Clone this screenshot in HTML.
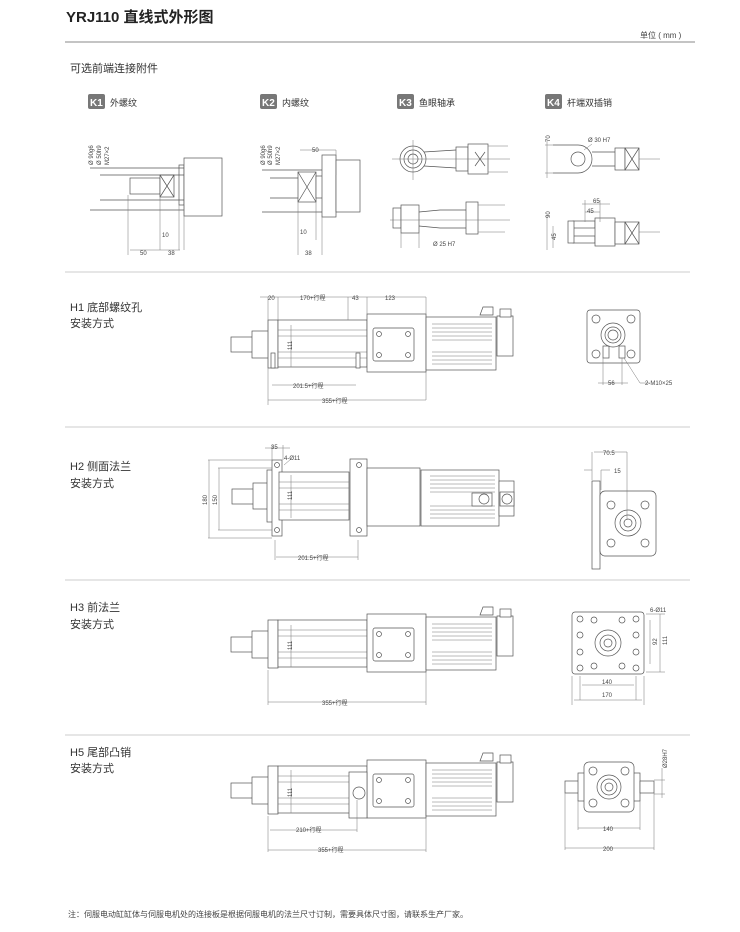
<!DOCTYPE html>
<html><head><meta charset="utf-8"><style>
body{margin:0;background:#fff;width:740px;height:932px;overflow:hidden}
svg{display:block}
text{font-family:"Liberation Sans","Noto Sans CJK SC",sans-serif;fill:#333}
.t{font-size:11px}
.s{font-size:6px;fill:#444}
.l{fill:none;stroke:#555;stroke-width:.7}
.w{fill:#fff;stroke:#555;stroke-width:.7}
.d{fill:none;stroke:#777;stroke-width:.5}
</style></head><body>
<svg width="740" height="932" viewBox="0 0 740 932">
<defs>
<g id="fins" class="d"><path d="M432 324H492M432 328H492M432 332H492M432 336H492M432 340H492M432 352H492M432 356H492M432 360H492M432 364H492"/></g>
<g id="act">
<rect x="231" y="337" width="22" height="15" class="w"/>
<rect x="252" y="331" width="17" height="27" class="w"/>
<rect x="268" y="320" width="10" height="48" class="w"/>
<rect x="278" y="320" width="89" height="47" class="w"/>
<path class="d" d="M278 330H367M278 358H367M278 336H367M278 352H367"/>
<rect x="367" y="314" width="59" height="58" class="w"/>
<rect x="426" y="317" width="70" height="53" class="w"/>
<use href="#fins"/>
<path class="w" d="M480 315 l3 -8 h10 v8z"/>
<rect x="497" y="316" width="16" height="40" class="w"/>
<rect x="500" y="309" width="11" height="8" class="w"/>
</g>
<g id="plate">
<rect x="373" y="328" width="41" height="33" rx="2" class="w"/>
<circle cx="379" cy="334" r="2.5" class="l"/><circle cx="408" cy="334" r="2.5" class="l"/>
<circle cx="379" cy="355" r="2.5" class="l"/><circle cx="408" cy="355" r="2.5" class="l"/>
</g>
</defs>

<text x="66" y="22" style="font-size:15px;font-weight:bold;fill:#222">YRJ110 直线式外形图</text>
<text x="640" y="38" class="s" style="font-size:8px">单位 ( mm )</text>
<line x1="65" y1="42" x2="695" y2="42" stroke="#888" stroke-width="1"/>
<text x="70" y="72" style="font-size:11px">可选前端连接附件</text>

<g>
<rect x="88" y="94" width="17" height="15" rx="2" fill="#777"/><text x="90" y="106" style="font-size:10px;fill:#fff;font-weight:bold">K1</text><text x="110" y="106" style="font-size:9px">外螺纹</text>
<rect x="260" y="94" width="17" height="15" rx="2" fill="#777"/><text x="262" y="106" style="font-size:10px;fill:#fff;font-weight:bold">K2</text><text x="282" y="106" style="font-size:9px">内螺纹</text>
<rect x="397" y="94" width="17" height="15" rx="2" fill="#777"/><text x="399" y="106" style="font-size:10px;fill:#fff;font-weight:bold">K3</text><text x="419" y="106" style="font-size:9px">鱼眼轴承</text>
<rect x="545" y="94" width="17" height="15" rx="2" fill="#777"/><text x="547" y="106" style="font-size:10px;fill:#fff;font-weight:bold">K4</text><text x="567" y="106" style="font-size:9px">杆端双插销</text>
</g>

<!-- K1 -->
<g>
<rect x="130" y="178" width="30" height="16" class="w"/><rect x="160" y="175" width="14" height="22" class="w"/><path class="l" d="M160 175l14 22M174 175l-14 22"/>
<rect x="179" y="165" width="5" height="40" class="w"/><rect x="184" y="158" width="38" height="58" class="w"/>
<path class="l" d="M90 168H184M90 210H184M100 175H184M100 200H184"/>
<text class="s" transform="translate(93,165) rotate(-90)">Ø 90g6</text><text class="s" transform="translate(101,165) rotate(-90)">Ø 50h9</text><text class="s" transform="translate(109,165) rotate(-90)">M27×2</text>
<path class="d" d="M160 195V250M179 205V250M184 205V250M128 195V255M130 250H180"/>
<text class="s" x="162" y="237">10</text><text class="s" x="140" y="255">50</text><text class="s" x="168" y="255">38</text>
</g>
<!-- K2 -->
<g>
<rect x="298" y="172" width="18" height="30" class="w"/><path class="l" d="M298 172l18 30M316 172l-18 30"/>
<rect x="316" y="176" width="14" height="22" class="w"/><rect x="322" y="155" width="14" height="62" class="w"/><rect x="336" y="160" width="24" height="52" class="w"/>
<path class="l" d="M262 170H322M262 212H322M270 178H298M270 198H298"/>
<text class="s" transform="translate(265,165) rotate(-90)">Ø 90g6</text><text class="s" transform="translate(272,165) rotate(-90)">Ø 50h9</text><text class="s" transform="translate(280,165) rotate(-90)">M27×2</text>
<path class="d" d="M298 200V255M316 200V240M322 215V255M336 150V175M300 150H336"/>
<text class="s" x="312" y="152">50</text><text class="s" x="300" y="234">10</text><text class="s" x="305" y="255">38</text>
</g>
<!-- K3 -->
<g>
<circle cx="413" cy="159" r="13" class="w"/><circle cx="413" cy="159" r="9" class="l"/><circle cx="413" cy="159" r="5" class="l"/>
<path class="l" d="M424 152L456 150M424 166L456 168"/>
<rect x="456" y="147" width="12" height="24" class="w"/><rect x="468" y="144" width="20" height="30" class="w"/><path class="l" d="M475 152l10 14M485 152l-10 14"/>
<path class="d" d="M392 159H510M413 140V180M488 146H508M488 172H508"/>
<rect x="393" y="208" width="8" height="20" class="w"/><rect x="401" y="205" width="18" height="28" class="w"/>
<path class="l" d="M419 212L440 210H466M419 226L440 228H466"/><rect x="466" y="202" width="12" height="32" class="w"/><path class="d" d="M390 220H510M478 205H505M478 232H505M401 233V248M419 233V248"/>
<text class="s" x="433" y="246">Ø 25 H7</text>
</g>
<!-- K4 -->
<g>
<path class="w" d="M553 145H578a14 14 0 0 1 0 28H553"/><circle cx="578" cy="159" r="7" class="l"/><path class="l" d="M592 152H616M592 166H616"/>
<rect x="615" y="148" width="10" height="22" class="w"/><rect x="625" y="148" width="14" height="22" class="w"/><path class="l" d="M625 148l14 22M639 148l-14 22"/>
<path class="d" d="M547 140V178M545 145H553M545 173H553M639 159H660M584 150l8 -6"/>
<text class="s" transform="translate(550,142) rotate(-90)">70</text><text class="s" x="588" y="142">Ø 30 H7</text>
<rect x="573" y="221" width="22" height="7" class="w"/><rect x="573" y="236" width="22" height="7" class="w"/><rect x="568" y="221" width="6" height="22" class="w"/>
<rect x="595" y="218" width="20" height="28" class="w"/><rect x="615" y="222" width="10" height="22" class="w"/><rect x="625" y="222" width="14" height="22" class="w"/><path class="l" d="M625 222l14 22M639 222l-14 22"/>
<path class="d" d="M547 215V250M553 226V248M585 200V222M600 200V222M582 204H610M585 212H600M639 232H660"/>
<text class="s" transform="translate(550,218) rotate(-90)">90</text><text class="s" transform="translate(556,240) rotate(-90)">45</text><text class="s" x="593" y="203">65</text><text class="s" x="587" y="213">45</text>
</g>

<g stroke="#ccc" stroke-width="1"><line x1="65" y1="272" x2="690" y2="272"/><line x1="65" y1="427" x2="690" y2="427"/><line x1="65" y1="580" x2="690" y2="580"/><line x1="65" y1="735" x2="690" y2="735"/></g>

<!-- H1 -->
<text x="70" y="311" class="t">H1  底部螺纹孔</text><text x="70" y="327" class="t">安装方式</text>
<use href="#act"/><use href="#plate"/>
<rect x="271" y="353" width="4" height="15" class="w"/><rect x="356" y="353" width="4" height="15" class="w"/>
<path class="d" d="M268 297V405M278 297V320M348 297V320M367 297V314M426 297V400M291 325V367M272 385H356M268 400H426M260 297H426"/>
<text class="s" x="268" y="300">20</text><text class="s" x="300" y="300">170+行程</text><text class="s" x="352" y="300">43</text><text class="s" x="385" y="300">123</text>
<text class="s" transform="translate(292,350) rotate(-90)">111</text>
<text class="s" x="293" y="388">201.5+行程</text><text class="s" x="322" y="403">355+行程</text>
<rect x="587" y="310" width="53" height="53" rx="3" class="w"/>
<circle cx="596" cy="319" r="4" class="l"/><circle cx="631" cy="319" r="4" class="l"/><circle cx="596" cy="354" r="4" class="l"/><circle cx="631" cy="354" r="4" class="l"/>
<circle cx="613" cy="335" r="12" class="l"/><circle cx="613" cy="335" r="8" class="l"/><circle cx="613" cy="335" r="5" class="l"/>
<rect x="603" y="346" width="6" height="12" class="l"/><rect x="619" y="346" width="6" height="12" class="l"/>
<path class="d" d="M603 358V385M622 358V385M598 383H628M624 358L640 383H650"/>
<text class="s" x="608" y="385">56</text><text class="s" x="645" y="385">2-M10×25</text>

<!-- H2 -->
<text x="70" y="470" class="t">H2  侧面法兰</text><text x="70" y="487" class="t">安装方式</text>
<g>
<rect x="232" y="489" width="22" height="15" class="w"/><rect x="253" y="483" width="15" height="26" class="w"/>
<rect x="267" y="470" width="12" height="52" class="w"/><rect x="272" y="460" width="10" height="76" class="w"/>
<rect x="279" y="472" width="70" height="48" class="w"/><path class="d" d="M279 482H349M279 510H349M279 488H349M279 504H349"/>
<circle cx="277" cy="465" r="2.5" class="l"/><circle cx="277" cy="530" r="2.5" class="l"/>
<rect x="350" y="459" width="17" height="77" class="w"/><circle cx="359" cy="465" r="2.5" class="l"/><circle cx="359" cy="530" r="2.5" class="l"/>
<rect x="367" y="468" width="53" height="58" class="w"/>
<rect x="421" y="470" width="78" height="56" class="w"/>
<path class="d" d="M430 476H495M430 480H495M430 484H495M430 488H495M430 492H495M430 506H495M430 510H495M430 514H495M430 518H495"/>
<rect x="472" y="493" width="20" height="13" class="w"/><circle cx="484" cy="499" r="5" class="l"/>
<rect x="499" y="481" width="15" height="35" class="w"/><rect x="500" y="492" width="14" height="14" class="w"/><circle cx="507" cy="499" r="5" class="l"/>
<path class="d" d="M208 460H272M218 468H272M208 538H272M218 530H272M209 460V538M219 468V530M272 445V460M283 445V460M265 448H290M284 465L291 459M275 540V560M358 540V560M276 557H358M291 475V518"/>
<text class="s" transform="translate(207,505) rotate(-90)">180</text><text class="s" transform="translate(217,505) rotate(-90)">150</text>
<text class="s" x="271" y="449">35</text><text class="s" x="284" y="460">4-Ø11</text><text class="s" transform="translate(292,500) rotate(-90)">111</text>
<text class="s" x="298" y="560">201.5+行程</text>
<rect x="592" y="481" width="8" height="88" class="w"/><rect x="600" y="491" width="56" height="65" rx="5" class="w"/>
<circle cx="611" cy="505" r="4" class="l"/><circle cx="645" cy="505" r="4" class="l"/><circle cx="611" cy="543" r="4" class="l"/><circle cx="645" cy="543" r="4" class="l"/>
<circle cx="628" cy="523" r="13" class="l"/><circle cx="628" cy="523" r="8" class="l"/><circle cx="628" cy="523" r="4" class="l"/>
<path class="d" d="M592 452V480M627 452V520M594 452H627M601 470V490M584 470H592M601 470H610"/>
<text class="s" x="603" y="455">70.5</text><text class="s" x="614" y="473">15</text>
</g>

<!-- H3 -->
<text x="70" y="611" class="t">H3  前法兰</text><text x="70" y="628" class="t">安装方式</text>
<g transform="translate(0,300)"><use href="#act"/><use href="#plate"/></g>
<path class="d" d="M268 670V705M426 670V705M268 702H426M291 625V667"/>
<text class="s" transform="translate(292,650) rotate(-90)">111</text><text class="s" x="322" y="705">355+行程</text>
<rect x="572" y="612" width="72" height="62" rx="3" class="w"/>
<circle cx="580" cy="619" r="3" class="l"/><circle cx="580" cy="635" r="3" class="l"/><circle cx="580" cy="652" r="3" class="l"/><circle cx="580" cy="668" r="3" class="l"/>
<circle cx="636" cy="619" r="3" class="l"/><circle cx="636" cy="635" r="3" class="l"/><circle cx="636" cy="652" r="3" class="l"/><circle cx="636" cy="668" r="3" class="l"/>
<circle cx="594" cy="620" r="3" class="l"/><circle cx="622" cy="620" r="3" class="l"/><circle cx="594" cy="666" r="3" class="l"/><circle cx="622" cy="666" r="3" class="l"/>
<circle cx="608" cy="643" r="13" class="l"/><circle cx="608" cy="643" r="8" class="l"/><circle cx="608" cy="643" r="4" class="l"/>
<path class="d" d="M580 676V700M636 676V700M572 676V705M644 676V705M582 685H634M574 700H642M646 614H665M646 672H665M650 620V664M660 614V672"/>
<text class="s" x="602" y="684">140</text><text class="s" x="602" y="697">170</text><text class="s" x="650" y="612">6-Ø11</text>
<text class="s" transform="translate(657,645) rotate(-90)">92</text><text class="s" transform="translate(667,645) rotate(-90)">111</text>

<!-- H5 -->
<text x="70" y="756" class="t">H5  尾部凸销</text><text x="70" y="772" class="t">安装方式</text>
<g transform="translate(0,446)"><use href="#act"/><use href="#plate"/></g>
<rect x="349" y="772" width="18" height="46" class="w"/><circle cx="359" cy="793" r="6" class="l"/>
<path class="d" d="M268 816V852M357 800V832M426 816V852M270 830H357M268 850H426M291 770V813"/>
<text class="s" transform="translate(292,797) rotate(-90)">111</text><text class="s" x="296" y="832">210+行程</text><text class="s" x="318" y="852">355+行程</text>
<rect x="565" y="781" width="14" height="12" class="w"/><rect x="578" y="773" width="8" height="28" class="w"/>
<rect x="632" y="773" width="8" height="28" class="w"/><rect x="640" y="781" width="14" height="12" class="w"/>
<rect x="584" y="762" width="50" height="50" rx="5" class="w"/>
<circle cx="593" cy="771" r="4" class="l"/><circle cx="625" cy="771" r="4" class="l"/><circle cx="593" cy="803" r="4" class="l"/><circle cx="625" cy="803" r="4" class="l"/>
<circle cx="609" cy="787" r="12" class="l"/><circle cx="609" cy="787" r="8" class="l"/><circle cx="609" cy="787" r="4" class="l"/>
<path class="d" d="M578 800V830M640 800V830M565 793V850M654 793V850M578 828H640M565 848H654M654 780H665M654 794H665M662 768V798"/>
<text class="s" x="603" y="831">140</text><text class="s" x="603" y="851">200</text><text class="s" transform="translate(667,768) rotate(-90)">Ø28H7</text>

<text x="68" y="917" style="font-size:8px;fill:#444">注：伺服电动缸缸体与伺服电机处的连接板是根据伺服电机的法兰尺寸订制，需要具体尺寸图，请联系生产厂家。</text>
</svg>
</body></html>
